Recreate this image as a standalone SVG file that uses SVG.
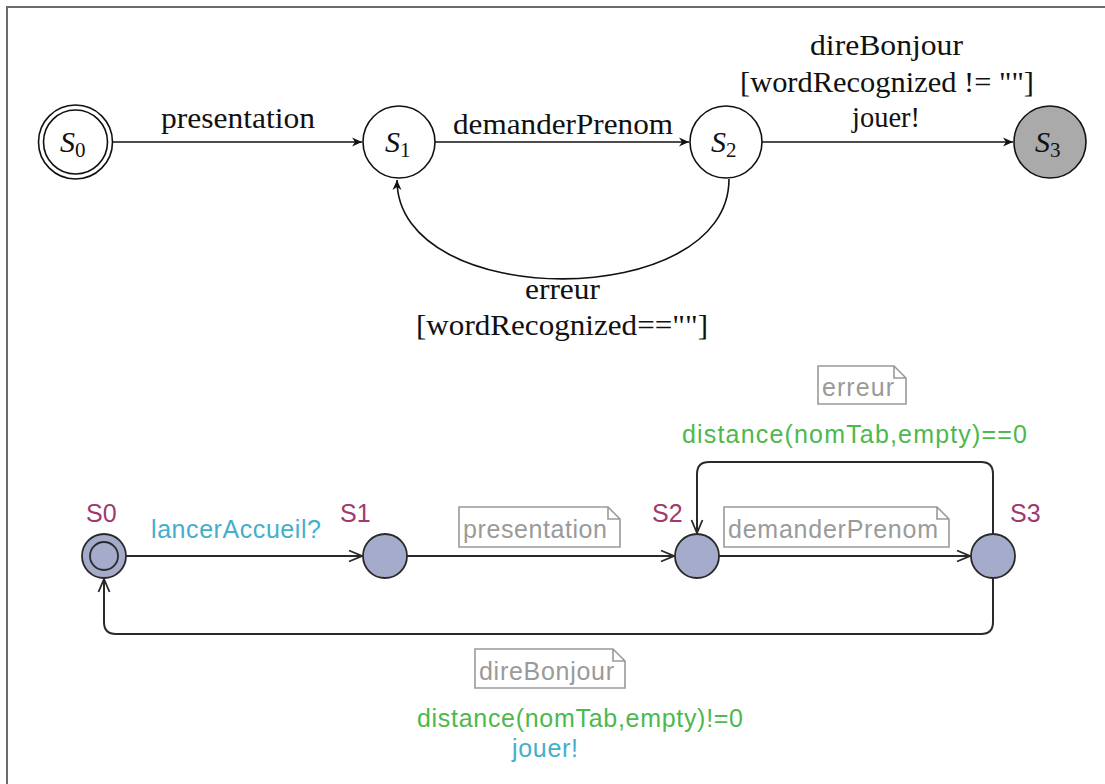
<svg xmlns="http://www.w3.org/2000/svg" width="1105" height="784" viewBox="0 0 1105 784">
<style>
.tx{font-family:"Liberation Serif","Times New Roman",serif;font-size:30px;fill:#111}
.st{fill:#fff;stroke:#111;stroke-width:1.6}
.ed{fill:none;stroke:#111;stroke-width:1.6}
.loc{fill:#a4abcb;stroke:#2a2a2a;stroke-width:1.8}
.ue{fill:none;stroke:#2a2a2a;stroke-width:2}
.nm{font-family:"Liberation Sans",Arial,sans-serif;font-size:25px;fill:#a0396e}
.sy{font-family:"Liberation Sans",Arial,sans-serif;font-size:25px;fill:#45aecb}
.gd{font-family:"Liberation Sans",Arial,sans-serif;font-size:25px;fill:#4db84d}
.nt{font-family:"Liberation Sans",Arial,sans-serif;font-size:25px;fill:#9a9a9a}
.nb{fill:#fff;stroke:#9a9a9a;stroke-width:1.6}
</style>
<defs>
<marker id="stl" viewBox="-12 -6 14 12" refX="0" refY="0" markerWidth="14" markerHeight="12" markerUnits="userSpaceOnUse" orient="auto">
<path d="M0,0 L-10,-4.5 L-7,0 L-10,4.5 Z" fill="#111"/>
</marker>
<marker id="vee" viewBox="-15 -8 17 16" refX="0" refY="0" markerWidth="17" markerHeight="16" markerUnits="userSpaceOnUse" orient="auto">
<path d="M-13,-5.5 L0,0 L-13,5.5" fill="none" stroke="#2a2a2a" stroke-width="1.8"/>
</marker>
</defs>
<rect width="1105" height="784" fill="#fff"/>
<path d="M7,784 V7 H1105" fill="none" stroke="#6b6b6b" stroke-width="2"/>

<g id="connectors">
<line class="ed" x1="113" y1="142" x2="362" y2="142" marker-end="url(#stl)"/>
<line class="ed" x1="435" y1="142" x2="689" y2="142" marker-end="url(#stl)"/>
<line class="ed" x1="762" y1="142" x2="1013" y2="142" marker-end="url(#stl)"/>
<path class="ed" d="M729,179 C729,312 397,312 397,180" marker-end="url(#stl)"/>
<text class="tx" x="161" y="128" textLength="154" lengthAdjust="spacingAndGlyphs">presentation</text>
<text class="tx" x="453" y="134" textLength="220" lengthAdjust="spacingAndGlyphs">demanderPrenom</text>
<text class="tx" x="810" y="55" textLength="153" lengthAdjust="spacingAndGlyphs">direBonjour</text>
<text class="tx" x="740" y="92" textLength="294" lengthAdjust="spacingAndGlyphs">[wordRecognized != &quot;&quot;]</text>
<text class="tx" x="852" y="127" textLength="68" lengthAdjust="spacingAndGlyphs">jouer!</text>
<text class="tx" x="525" y="299" textLength="75" lengthAdjust="spacingAndGlyphs">erreur</text>
<text class="tx" x="416" y="335" textLength="292" lengthAdjust="spacingAndGlyphs">[wordRecognized==&quot;&quot;]</text>

<line class="ue" x1="126" y1="556" x2="362" y2="556" marker-end="url(#vee)"/>
<line class="ue" x1="407" y1="556" x2="674" y2="556" marker-end="url(#vee)"/>
<line class="ue" x1="719" y1="556" x2="970" y2="556" marker-end="url(#vee)"/>
<path class="ue" d="M993,534 V474 Q993,462 981,462 H709 Q697,462 697,474 V533" marker-end="url(#vee)"/>
<path class="ue" d="M993,578 V622 Q993,634 981,634 H116 Q104,634 104,622 V579" marker-end="url(#vee)"/>
<text class="sy" x="151" y="538" textLength="170">lancerAccueil?</text>
<path class="nb" d="M459,507 H608 L620,519 V547 H459 Z M608,507 V519 H620"/>
<text class="nt" x="463" y="538" textLength="144">presentation</text>
<path class="nb" d="M724,507 H937 L949,519 V547 H724 Z M937,507 V519 H949"/>
<text class="nt" x="728" y="538" textLength="210">demanderPrenom</text>
<path class="nb" d="M818,366 H894 L906,378 V404 H818 Z M894,366 V378 H906"/>
<text class="nt" x="822" y="396" textLength="72">erreur</text>
<text class="gd" x="682" y="443" textLength="345">distance(nomTab,empty)==0</text>
<path class="nb" d="M475,649 H613 L625,661 V688 H475 Z M613,649 V661 H625"/>
<text class="nt" x="479" y="680" textLength="135">direBonjour</text>
<text class="gd" x="417" y="727" textLength="326">distance(nomTab,empty)!=0</text>
<text class="sy" x="512" y="757" textLength="66">jouer!</text>
</g>

<g id="top-S0">
<circle class="st" cx="75.5" cy="142" r="37"/>
<circle class="st" cx="75.5" cy="142" r="32"/>
<text class="tx" x="60" y="152"><tspan font-style="italic">S</tspan><tspan font-size="21" dy="5">0</tspan></text>
</g>
<g id="top-S1">
<circle class="st" cx="399" cy="142" r="36"/>
<text class="tx" x="385" y="152"><tspan font-style="italic">S</tspan><tspan font-size="21" dy="5">1</tspan></text>
</g>
<g id="top-S2">
<circle class="st" cx="726" cy="142" r="36"/>
<text class="tx" x="711" y="152"><tspan font-style="italic">S</tspan><tspan font-size="21" dy="5">2</tspan></text>
</g>
<g id="top-S3">
<circle cx="1050" cy="142" r="36" fill="#aaaaaa" stroke="#111" stroke-width="1.6"/>
<text class="tx" x="1035" y="152"><tspan font-style="italic">S</tspan><tspan font-size="21" dy="5">3</tspan></text>
</g>

<g id="u-S0">
<circle class="loc" cx="104" cy="556" r="22"/>
<circle class="loc" cx="104" cy="556" r="14"/>
<text class="nm" x="86" y="522">S0</text>
</g>
<g id="u-S1">
<circle class="loc" cx="385" cy="556" r="22"/>
<text class="nm" x="340" y="522">S1</text>
</g>
<g id="u-S2">
<circle class="loc" cx="697" cy="556" r="22"/>
<text class="nm" x="652" y="522">S2</text>
</g>
<g id="u-S3">
<circle class="loc" cx="993" cy="556" r="22"/>
<text class="nm" x="1010" y="522">S3</text>
</g>
</svg>
